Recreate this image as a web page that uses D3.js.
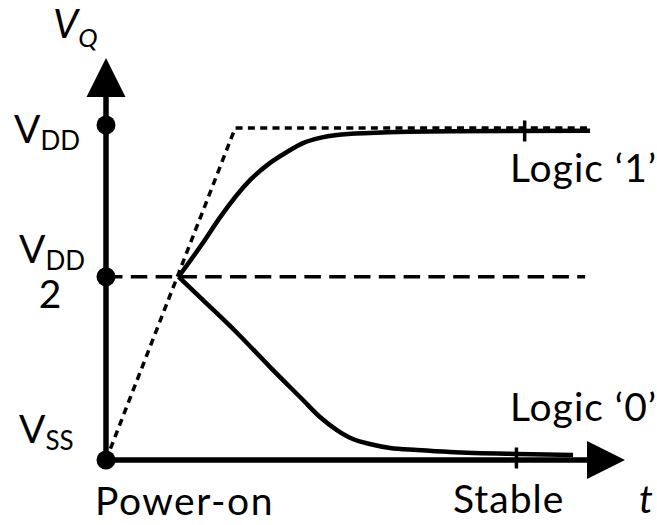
<!DOCTYPE html>
<html>
<head>
<meta charset="utf-8">
<script src="https://cdn.jsdelivr.net/npm/d3@7"></script>
<style>
  body { margin: 0; background: #fff; }
  text { font-family: Lato, "Noto Sans", sans-serif; fill: #000; }
</style>
</head>
<body>
<svg id="chart" width="657" height="525"></svg>
<script>
// Supply levels on the V_Q axis (fraction of V_DD)
const levelNames = ["SS", "DD/2", "DD"];
const levelValues = [0, 0.5, 1];

// Supply ramp after power-on (dotted): time, level
const rampT = [0, 26.7, 100];
const rampV = [0, 0.99, 0.99];

// Half-supply reference (dashed)
const halfT = [0, 99];
const halfV = [0.5, 0.5];

// Node settling to logic '1'
const logic1T = [15, 20.0, 23.6, 29.8, 33.9, 37.4, 40.7, 44.2, 47.7, 54.5, 71.1, 100];
const logic1V = [0.5, 0.607, 0.691, 0.814, 0.871, 0.908, 0.938, 0.956, 0.966, 0.973, 0.979, 0.98];

// Node settling to logic '0'
const logic0T = [15, 20.0, 27.1, 33.9, 40.7, 44.2, 47.7, 51.0, 54.5, 58.7, 64.3, 71.1, 84.9, 96.5];
const logic0V = [0.5, 0.428, 0.328, 0.229, 0.1385, 0.0945, 0.0624, 0.0414, 0.0303, 0.0218, 0.0177, 0.0137, 0.0098, 0.008];

// Time at which each node is considered stable
const stableT = [86.5, 84.8];

const svg = d3.select("#chart");

const x = d3.scaleLinear().domain([0, 100]).range([106, 590]);
// level axis is slightly compressed toward the top of the sketch
const y = d3.scalePow().exponent(0.87).domain([0, 1]).range([460, 125]);

const zip = (ts, vs) => ts.map((t, i) => [t, vs[i]]);
const line = d3.line().x(d => x(d[0])).y(d => y(d[1]));
const smooth = d3.line().x(d => x(d[0])).y(d => y(d[1])).curve(d3.curveMonotoneX);

// axes with arrow heads
const x0 = x(0), y0 = y(0);
svg.append("line").attr("x1", x0).attr("y1", y0).attr("x2", x0).attr("y2", 96)
  .attr("stroke", "#000").attr("stroke-width", 5.5);
svg.append("path").attr("d", `M${x0},58 L${x0 - 19.5},97 L${x0 + 19.5},97 Z`).attr("fill", "#000");
svg.append("line").attr("x1", x0).attr("y1", y0).attr("x2", 588).attr("y2", y0)
  .attr("stroke", "#000").attr("stroke-width", 5.5);
svg.append("path").attr("d", `M625,${y0} L587,${y0 - 19} L587,${y0 + 19} Z`).attr("fill", "#000");

// dashed half-supply line
svg.append("path").datum(zip(halfT, halfV)).attr("d", line)
  .attr("fill", "none").attr("stroke", "#000").attr("stroke-width", 3.5)
  .attr("stroke-dasharray", "16.5,8.3");

// dotted supply ramp
svg.append("path").datum(zip(rampT, rampV)).attr("d", line)
  .attr("fill", "none").attr("stroke", "#000").attr("stroke-width", 3.5)
  .attr("stroke-dasharray", "7,5.3");

// settling curves
[zip(logic1T, logic1V), zip(logic0T, logic0V)].forEach(d => {
  svg.append("path").datum(d).attr("d", smooth)
    .attr("fill", "none").attr("stroke", "#000").attr("stroke-width", 4.5)
    .attr("stroke-linejoin", "round");
});

// stable markers on each curve
const curves = [[logic1T, logic1V], [logic0T, logic0V]];
stableT.forEach((t, i) => {
  const [ts, vs] = curves[i];
  const v = d3.scaleLinear().domain(ts).range(vs)(t);
  const cy = i === 0 ? y(v) : (y(v) + y0) / 2 + 1;
  svg.append("line").attr("x1", x(t)).attr("x2", x(t))
    .attr("y1", cy - 10.5).attr("y2", cy + 10.5)
    .attr("stroke", "#000").attr("stroke-width", 3.5);
});

// level dots
svg.selectAll("circle.level").data(levelValues).join("circle")
  .attr("class", "level").attr("cx", x0).attr("cy", d => y(d)).attr("r", 9.5).attr("fill", "#000");

// level labels
levelNames.forEach((name, i) => {
  const cy = y(levelValues[i]);
  const sub = name.startsWith("DD") ? "DD" : "SS";
  let base, lx;
  if (name === "DD") { base = cy + 18; lx = 14; }
  else if (name === "DD/2") { base = cy - 14; lx = 19; }
  else { base = cy - 17; lx = 19; }
  const t = svg.append("text").attr("x", lx).attr("y", base).attr("font-size", 39);
  t.append("tspan").text("V");
  t.append("tspan").attr("font-size", 26).attr("dy", 7).text(sub);
  if (name === "DD/2") {
    svg.append("text").attr("x", 50).attr("y", base + 45).attr("font-size", 39)
      .attr("text-anchor", "middle").text("2");
  }
});

// axis titles
const vq = svg.append("text").attr("x", 53).attr("y", 38).attr("font-size", 40).attr("font-style", "italic");
vq.append("tspan").text("V");
vq.append("tspan").attr("font-size", 26).attr("dy", 9).text("Q");
svg.append("text").attr("x", 639).attr("y", 513).attr("font-size", 39).attr("font-style", "italic").text("t");

// annotations
const note = (tx, ty, s, sp) => svg.append("text").attr("x", tx).attr("y", ty)
  .attr("font-size", 39).attr("letter-spacing", sp).text(s);
note(x(0) - 11, 515, "Power-on", 1.5);
note(453, 513, "Stable", 1);
note(510, 182, "Logic \u20181\u2019", 1);
note(510, 421, "Logic \u20180\u2019", 1);
</script>
</body>
</html>
